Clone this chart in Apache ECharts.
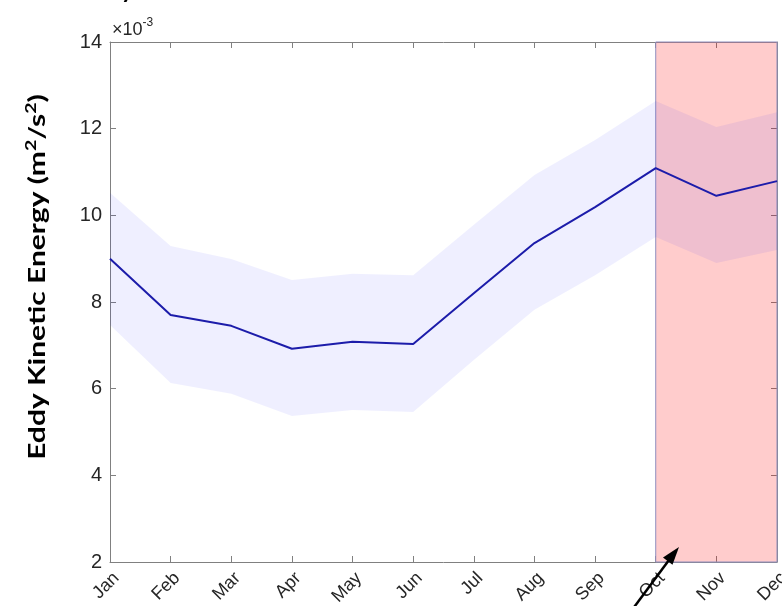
<!DOCTYPE html>
<html>
<head>
<meta charset="utf-8">
<script src="https://cdn.jsdelivr.net/npm/echarts@6/dist/echarts.min.js"></script>
<style>
  html, body { margin: 0; padding: 0; background: #fff; }
  #chart { width: 782px; height: 606px; }
</style>
</head>
<body>
<div id="chart"></div>
<script>
// Monthly eddy kinetic energy climatology (units of 1e-3 m^2/s^2)
const months = ['Jan', 'Feb', 'Mar', 'Apr', 'May', 'Jun', 'Jul', 'Aug', 'Sep', 'Oct', 'Nov', 'Dec'];
const meanEKE  = [9.00, 7.70, 7.45, 6.92, 7.08, 7.03, 8.20, 9.36, 10.19, 11.09, 10.45, 10.79];
const upperEKE = [10.52, 9.29, 8.99, 8.51, 8.65, 8.62, 9.78, 10.93, 11.74, 12.64, 12.04, 12.38];
const lowerEKE = [7.47, 6.13, 5.88, 5.37, 5.51, 5.46, 6.66, 7.82, 8.62, 9.50, 8.90, 9.20];
const yTicks = { min: 2, max: 14, interval: 2 };
const highlightMonths = ['Oct', 'Dec'];

const bandWidth = upperEKE.map((u, i) => +(u - lowerEKE[i]).toFixed(3));

const axisGray = '#808080';
const textGray = '#262626';
const tickFont = 'Liberation Sans, Arial, sans-serif';

// Y-axis title: bold, with true superscripts, stretched to span the axis height
const titleFont = 'Lato, Open Sans, sans-serif';
const titleSize = 23, supSize = 15;
const titleSpan = 365;
const ctx = document.createElement('canvas').getContext('2d');
ctx.font = 'bold ' + titleSize + 'px Lato';
const baseW = ctx.measureText('Eddy Kinetic Energy (m/s)').width;
ctx.font = 'bold ' + supSize + 'px Lato';
const supW = 2 * ctx.measureText('2').width;
const titleStretch = titleSpan / (baseW + supW);

const chart = echarts.init(document.getElementById('chart'), null, { renderer: 'canvas' });

chart.setOption({
  animation: false,
  backgroundColor: '#ffffff',
  grid: { left: 110, right: 5, top: 42, bottom: 44, containLabel: false, outerBoundsMode: 'none' },
  xAxis: [
    {
      type: 'category',
      data: months,
      boundaryGap: false,
      axisLine: { lineStyle: { color: axisGray, width: 1 } },
      axisTick: { inside: true, length: 6, lineStyle: { color: axisGray } },
      axisLabel: {
        rotate: 45, color: textGray, fontSize: 18,
        fontFamily: tickFont, margin: 7, verticalAlign: 'top'
      },
      splitLine: { show: false }
    },
    {
      type: 'category',
      data: months,
      boundaryGap: false,
      position: 'top',
      axisLine: { lineStyle: { color: axisGray, width: 1 } },
      axisTick: { inside: true, length: 6, lineStyle: { color: axisGray } },
      axisLabel: { show: false },
      splitLine: { show: false }
    }
  ],
  yAxis: [
    {
      type: 'value',
      min: yTicks.min, max: yTicks.max, interval: yTicks.interval,
      axisLine: { show: true, lineStyle: { color: axisGray, width: 1 } },
      axisTick: { show: true, inside: true, length: 6, lineStyle: { color: axisGray } },
      axisLabel: { color: textGray, fontSize: 20, margin: 8, fontFamily: tickFont },
      splitLine: { show: false }
    },
    {
      type: 'value',
      position: 'right',
      min: yTicks.min, max: yTicks.max, interval: yTicks.interval,
      axisLine: { show: true, lineStyle: { color: axisGray, width: 1 } },
      axisTick: { show: true, inside: true, length: 6, lineStyle: { color: axisGray } },
      axisLabel: { show: false },
      splitLine: { show: false }
    }
  ],
  series: [
    {
      name: 'lower',
      type: 'line',
      data: lowerEKE,
      stack: 'band',
      symbol: 'none',
      lineStyle: { opacity: 0 },
      silent: true,
      z: 1
    },
    {
      name: 'spread',
      type: 'line',
      data: bandWidth,
      stack: 'band',
      symbol: 'none',
      lineStyle: { opacity: 0 },
      areaStyle: { color: 'rgba(0, 0, 255, 0.09)' },
      silent: true,
      z: 1
    },
    {
      name: 'mean',
      type: 'line',
      data: meanEKE,
      symbol: 'none',
      lineStyle: { color: '#1c1caa', width: 2 },
      z: 3
    },
    {
      name: 'season',
      type: 'line',
      data: [],
      z: 5,
      markArea: {
        silent: true,
        itemStyle: {
          color: 'rgba(255, 0, 0, 0.2)',
          borderColor: '#8f8fbf',
          borderWidth: 1
        },
        data: [[
          { xAxis: highlightMonths[0], yAxis: yTicks.min },
          { xAxis: highlightMonths[1], yAxis: yTicks.max }
        ]]
      }
    }
  ],
  graphic: [
    {
      type: 'text',
      x: 38, y: 277,
      rotation: Math.PI / 2,
      scaleX: titleStretch,
      style: {
        text: '{b|Eddy Kinetic Energy (m}{s|2}{b|/s}{s|2}{b|)}',
        align: 'center',
        verticalAlign: 'middle',
        rich: {
          b: { fontSize: titleSize, fontWeight: 'bold', fontFamily: titleFont, fill: '#000', lineHeight: 28 },
          s: { fontSize: supSize, fontWeight: 'bold', fontFamily: titleFont, fill: '#000', verticalAlign: 'top', lineHeight: 28 }
        }
      }
    },
    {
      type: 'text',
      left: 112, top: 17,
      style: {
        text: '{x|×10}{s|-3}',
        rich: {
          x: { fontSize: 18, fill: textGray, fontFamily: tickFont, verticalAlign: 'bottom', lineHeight: 22 },
          s: { fontSize: 12, fill: textGray, fontFamily: tickFont, verticalAlign: 'top', lineHeight: 22 }
        }
      }
    },
    {
      type: 'text',
      left: 121, top: -22,
      style: {
        text: 'y', fontSize: 24, fontWeight: 'bold',
        fontFamily: titleFont, fill: '#000'
      }
    },
    {
      type: 'line',
      shape: { x1: 632, y1: 610, x2: 669, y2: 560 },
      style: { stroke: '#000', lineWidth: 2.5 },
      z: 100
    },
    {
      type: 'polygon',
      shape: { points: [[679, 547], [663, 557.4], [672.5, 564.8]] },
      style: { fill: '#000' },
      z: 100
    }
  ]
});
</script>
</body>
</html>
